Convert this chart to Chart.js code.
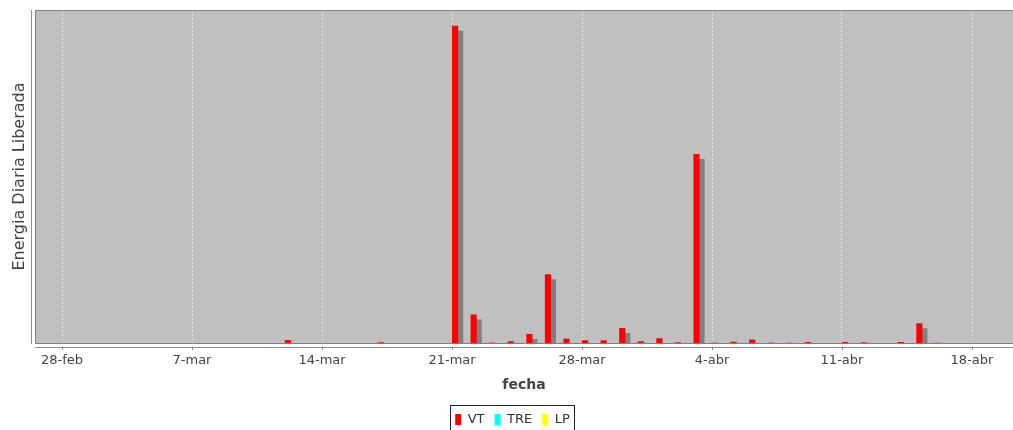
<!DOCTYPE html>
<html>
<head>
<meta charset="utf-8">
<title>Energía diaria liberada</title>
<script src="https://cdn.jsdelivr.net/npm/chart.js@4/dist/chart.umd.min.js"></script>
<style>
  html, body { margin: 0; padding: 0; background: #ffffff; overflow: hidden; }
  #marco { width: 1013px; height: 430px; overflow: hidden; position: relative; }
  #grafico { display: block; }
</style>
</head>
<body>
<div id="marco"><canvas id="grafico" width="1013" height="436"></canvas></div>
<script>
// Día de referencia del eje temporal
const ORIGEN = '2011-02-28';

// Días con energía liberada registrada
const fechas = [
  '2011-03-12', '2011-03-17', '2011-03-21', '2011-03-22', '2011-03-23',
  '2011-03-24', '2011-03-25', '2011-03-26', '2011-03-27', '2011-03-28',
  '2011-03-29', '2011-03-30', '2011-03-31', '2011-04-01', '2011-04-02',
  '2011-04-03', '2011-04-04', '2011-04-05', '2011-04-06', '2011-04-07',
  '2011-04-08', '2011-04-09', '2011-04-11', '2011-04-12', '2011-04-14',
  '2011-04-15', '2011-04-16'
];

// Energía diaria por tipo de evento
const vt = [
  3.0, 0.7, 317.0, 28.5, 0.4,
  1.7, 9.0, 68.7, 4.3, 2.7,
  2.7, 15.0, 1.7, 4.7, 0.7,
  189.0, 0.3, 1.3, 3.4, 0.3,
  0.3, 1.0, 1.0, 0.7, 1.0,
  19.7, 0.3
];
const tre = [
  0, 0, 0, 0, 0, 0, 0, 0, 0, 0, 0, 0, 0, 0,
  0, 0, 0, 0, 0, 0, 0, 0, 0, 0, 0, 0, 0
];
const lp = [
  0, 0, 0, 0, 0, 0, 0, 0, 0, 0, 0, 0, 0, 0,
  0, 0, 0, 0, 0, 0, 0, 0, 0, 0, 0, 0, 0
];

// Etiquetas semanales del eje de fechas
const etiquetas = ['28-feb', '7-mar', '14-mar', '21-mar', '28-mar', '4-abr', '11-abr', '18-abr'];

const DIA_MS = 86400000;
const dia = f => (Date.parse(f) - Date.parse(ORIGEN)) / DIA_MS;
// cada barra ocupa su día completo: el grupo se centra en el mediodía
const serie = valores => fechas.map((f, i) => ({ x: dia(f) + 0.5, y: valores[i] }));

const FUENTE = "'DejaVu Sans', 'Noto Sans', sans-serif";

// Fondo gris del área de trazado
const fondoPlot = {
  id: 'fondoPlot',
  beforeDraw(chart) {
    const { ctx, chartArea: a } = chart;
    ctx.save();
    ctx.fillStyle = '#c0c0c0';
    ctx.fillRect(a.left, a.top, a.right - a.left, a.bottom - a.top);
    ctx.restore();
  }
};

// Sombra desplazada bajo cada barra
const sombraBarras = {
  id: 'sombraBarras',
  beforeDatasetDraw(chart) {
    const ctx = chart.ctx;
    ctx.save();
    ctx.shadowColor = '#808080';
    ctx.shadowOffsetX = 5;
    ctx.shadowOffsetY = 5;
    ctx.shadowBlur = 0;
  },
  afterDatasetDraw(chart) {
    chart.ctx.restore();
  }
};

// Borde del trazado, ejes separados y recuadro de la leyenda
const marcos = {
  id: 'marcos',
  afterDraw(chart) {
    const { ctx, chartArea: a } = chart;
    const sx = chart.scales.x;
    ctx.save();
    ctx.lineWidth = 1;
    ctx.strokeStyle = '#808080';
    ctx.beginPath();
    ctx.moveTo(a.right, a.top + 0.5);
    ctx.lineTo(a.left + 0.5, a.top + 0.5);
    ctx.lineTo(a.left + 0.5, a.bottom + 0.5);
    ctx.lineTo(a.right, a.bottom + 0.5);
    ctx.stroke();

    // eje vertical
    ctx.strokeStyle = '#8c8c8c';
    ctx.beginPath();
    ctx.moveTo(a.left - 3.5, a.top);
    ctx.lineTo(a.left - 3.5, a.bottom + 1);
    ctx.stroke();

    // eje horizontal con marcas
    const yEje = a.bottom + 4.5;
    ctx.beginPath();
    ctx.moveTo(a.left, yEje);
    ctx.lineTo(a.right, yEje);
    sx.ticks.forEach(t => {
      const px = Math.round(sx.getPixelForValue(t.value)) + 0.5;
      ctx.moveTo(px, yEje - 1);
      ctx.lineTo(px, yEje + 2.5);
    });
    ctx.stroke();

    // recuadro de la leyenda
    const cajas = chart.legend.legendHitBoxes;
    if (cajas && cajas.length) {
      const izq = cajas[0].left;
      const ult = cajas[cajas.length - 1];
      const der = ult.left + ult.width;
      const arriba = cajas[0].top;
      ctx.strokeStyle = '#222222';
      ctx.strokeRect(Math.round(izq - 5) + 0.5, Math.round(arriba - 8) + 0.5,
                     Math.round(der - izq + 9), 60);
    }
    ctx.restore();
  }
};

const comunes = {
  borderWidth: 0,
  inflateAmount: 0,
  categoryPercentage: 1.0,
  barPercentage: 1.0,
  clip: 0
};

const maxVT = Math.max(...vt);

new Chart(document.getElementById('grafico'), {
  type: 'bar',
  data: {
    datasets: [
      Object.assign({ label: 'VT', data: serie(vt), backgroundColor: '#ff0000' }, comunes),
      Object.assign({ label: 'TRE', data: serie(tre), backgroundColor: '#00ffff' }, comunes),
      Object.assign({ label: 'LP', data: serie(lp), backgroundColor: '#ffff00' }, comunes)
    ]
  },
  options: {
    responsive: false,
    animation: false,
    events: [],
    layout: { padding: { left: 12, top: 10, right: 0, bottom: 0 } },
    scales: {
      x: {
        type: 'linear',
        offset: false,
        min: -27 * 7 / 130,
        max: -27 * 7 / 130 + 978 * 7 / 130,
        afterBuildTicks: s => { s.ticks = etiquetas.map((_, i) => ({ value: i * 7 })); },
        afterFit: s => { s.height = 60; },
        ticks: {
          autoSkip: false,
          maxRotation: 0,
          padding: 10,
          color: '#444444',
          font: { family: FUENTE, size: 13 },
          callback: (v, i) => etiquetas[i]
        },
        grid: {
          offset: false,
          color: 'rgba(255,255,255,0.55)',
          lineWidth: 1,
          drawTicks: false
        },
        border: { display: false, dash: [2, 2] },
        title: {
          display: true,
          text: 'fecha',
          color: '#444444',
          font: { family: FUENTE, size: 14, weight: 'bold' },
          padding: { top: 0, bottom: 9 }
        }
      },
      y: {
        min: 0,
        max: maxVT * 1.05,
        afterFit: s => { s.width = 23; },
        ticks: { display: false },
        grid: { display: false },
        border: { display: false },
        title: {
          display: true,
          text: 'Energia Diaria Liberada',
          color: '#444444',
          font: { family: FUENTE, size: 16 },
          padding: { top: -2, bottom: 0 }
        }
      }
    },
    plugins: {
      tooltip: { enabled: false },
      legend: {
        position: 'bottom',
        labels: {
          boxWidth: 6,
          boxHeight: 11,
          padding: 10,
          color: '#333333',
          font: { family: FUENTE, size: 13 }
        }
      }
    }
  },
  plugins: [fondoPlot, sombraBarras, marcos]
});
</script>
</body>
</html>
